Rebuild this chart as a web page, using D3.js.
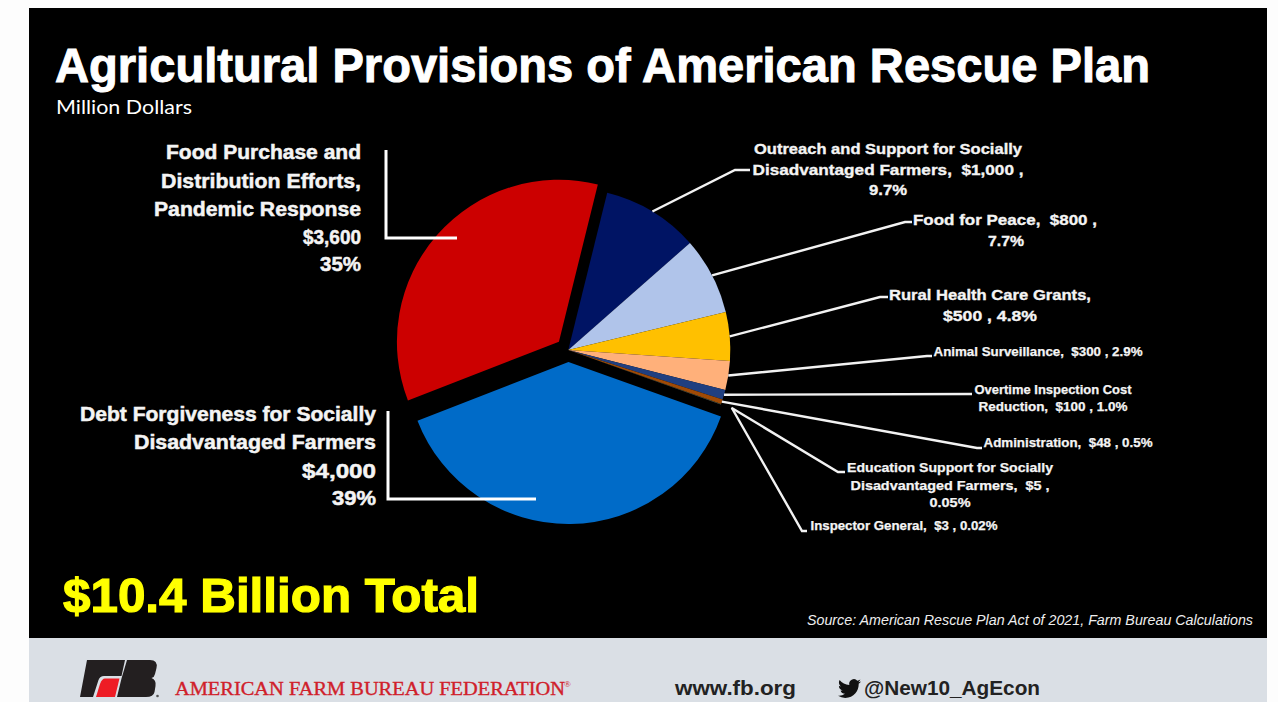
<!DOCTYPE html>
<html>
<head>
<meta charset="utf-8">
<script src="https://cdn.jsdelivr.net/npm/d3@7"></script>
<style>
  html, body { margin: 0; padding: 0; background: #fdfdfd; overflow: hidden; }
  svg { display: block; }
  text { font-family: "Liberation Sans", sans-serif; }
</style>
</head>
<body>
<svg id="chart" width="1278" height="702"></svg>
<script>
// Provision names, dollar amounts (million $) and printed shares, clockwise from the top.
const categories = [
  "Outreach and Support for Socially Disadvantaged Farmers",
  "Food for Peace",
  "Rural Health Care Grants",
  "Animal Surveillance",
  "Overtime Inspection Cost Reduction",
  "Administration",
  "Education Support for Socially Disadvantaged Farmers",
  "Inspector General",
  "Debt Forgiveness for Socially Disadvantaged Farmers",
  "Food Purchase and Distribution Efforts, Pandemic Response"
];
const amounts = [1000, 800, 500, 300, 100, 48, 5, 3, 4000, 3600];
const shares = ["9.7%", "7.7%", "4.8%", "2.9%", "1.0%", "0.5%", "0.05%", "0.02%", "39%", "35%"];
const sliceColors = ["#001464", "#b0c4ea", "#ffc000", "#ffb07a", "#203f80", "#a04a06", "#2f4a1c", "#8a8a8a", "#006bc8", "#cc0000"];

const titleText = "Agricultural Provisions of American Rescue Plan";
const subtitleText = "Million Dollars";
const totalText = "$10.4 Billion Total";
const sourceText = "Source: American Rescue Plan Act of 2021, Farm Bureau Calculations";
const orgText = "AMERICAN FARM BUREAU FEDERATION";
const siteText = "www.fb.org";
const handleText = "@New10_AgEcon";

const svg = d3.select("#chart");

// Slide backdrop and footer band
svg.append("rect").attr("x", 29).attr("y", 8).attr("width", 1238).attr("height", 630).attr("fill", "#000");
svg.append("rect").attr("x", 29).attr("y", 638).attr("width", 1238).attr("height", 64).attr("fill", "#dadfe5");

// Pie geometry
const center = [568.3, 350];
const radius = 162;
const explode = { 8: 12, 9: 12.5 };

const pie = d3.pie().sort(null).value(d => d)
  .startAngle(13.9 * Math.PI / 180)
  .endAngle((13.9 + 360) * Math.PI / 180);
const arcs = pie(amounts);
const arc = d3.arc().innerRadius(0).outerRadius(radius);
const midAngle = d => (d.startAngle + d.endAngle) / 2;

const pieLayer = svg.append("g").attr("transform", `translate(${center})`);
pieLayer.selectAll("path").data(arcs).join("path")
  .attr("d", arc)
  .attr("fill", (d, i) => sliceColors[i])
  .attr("transform", (d, i) => {
    const off = explode[i] || 0;
    return `translate(${off * Math.sin(midAngle(d))},${-off * Math.cos(midAngle(d))})`;
  });

// Leader lines: right-hand ones start on the rim at each slice's mid-angle
const leaderRadius = [162, 162, 162, 162, 162, 162, 173, 174];
const leaderBends = [
  [[735, 170], [750, 170]],
  [[905, 222], [912, 222]],
  [[880, 297], [888, 297]],
  [[927, 356], [932, 356]],
  [[972, 394]],
  [[977, 448], [982, 448]],
  [[838, 472], [845, 472]],
  [[802, 531], [807, 531]]
];
const line = d3.line();
svg.append("g").selectAll("path").data(leaderBends).join("path")
  .attr("fill", "none").attr("stroke", "#f2f2f2").attr("stroke-width", 2.4)
  .attr("d", (bends, i) => {
    const a = midAngle(arcs[i]), r = leaderRadius[i];
    return line([[center[0] + r * Math.sin(a), center[1] - r * Math.cos(a)], ...bends]);
  });

// Bracket-shaped leaders for the two large slices
const bracketLeaders = [
  [[386, 150], [386, 238], [457, 238]],
  [[388, 411], [388, 499], [536, 499]]
];
svg.append("g").selectAll("path").data(bracketLeaders).join("path")
  .attr("fill", "none").attr("stroke", "#fff").attr("stroke-width", 3).attr("d", line);

// Slice labels, one entry per printed line: text, anchor x, baseline y, font size, fitted width, outline
const labelLines = [
  ["Food Purchase and", "end", 361, 159, 20.5, 195, 0.5],
  ["Distribution Efforts,", "end", 361, 188, 20.5, 200, 0.5],
  ["Pandemic Response", "end", 361, 216, 20.5, 207, 0.5],
  ["$3,600", "end", 361, 244, 20.5, 58, 0.5],
  ["35%", "end", 361, 271, 20.5, 41, 0.5],
  ["Debt Forgiveness for Socially", "end", 376, 421, 20.5, 296, 0.5],
  ["Disadvantaged Farmers", "end", 376, 449, 20.5, 242, 0.5],
  ["$4,000", "end", 376, 478, 20.5, 74, 0.5],
  ["39%", "end", 376, 505, 20.5, 44, 0.5],
  ["Outreach and Support for Socially", "middle", 888, 154, 15.5, 268, 0.35],
  ["Disadvantaged Farmers,  $1,000 ,", "middle", 888, 175, 15.5, 271, 0.35],
  ["9.7%", "middle", 888, 195, 15.5, 38, 0.35],
  ["Food for Peace,  $800 ,", "middle", 1005, 225, 15.5, 184, 0.35],
  ["7.7%", "middle", 1006, 246, 15.5, 36, 0.35],
  ["Rural Health Care Grants,", "middle", 990, 300, 15.5, 202, 0.35],
  ["$500 , 4.8%", "middle", 990, 321, 15.5, 94, 0.35],
  ["Animal Surveillance,  $300 , 2.9%", "middle", 1038, 356, 12, 209, 0.25],
  ["Overtime Inspection Cost", "middle", 1053, 394, 12, 157, 0.25],
  ["Reduction,  $100 , 1.0%", "middle", 1053, 411, 12, 149, 0.25],
  ["Administration,  $48 , 0.5%", "middle", 1068, 447, 12, 169, 0.25],
  ["Education Support for Socially", "middle", 950, 472, 12.5, 206, 0.25],
  ["Disadvantaged Farmers,  $5 ,", "middle", 950, 490, 12.5, 199, 0.25],
  ["0.05%", "middle", 950, 507, 12.5, 41, 0.25],
  ["Inspector General,  $3 , 0.02%", "middle", 904, 530, 12, 187, 0.25]
];
svg.append("g").selectAll("text").data(labelLines).join("text")
  .text(d => d[0])
  .attr("text-anchor", d => d[1])
  .attr("x", d => d[2]).attr("y", d => d[3])
  .attr("font-size", d => d[4])
  .attr("textLength", d => d[5]).attr("lengthAdjust", "spacingAndGlyphs")
  .attr("font-weight", 700).attr("fill", "#f4f4f4")
  .attr("stroke", "#f4f4f4").attr("stroke-width", d => d[6])
  .style("white-space", "pre");

// Headline text
function put(txt, x, y, size, fill, width, extra) {
  const t = svg.append("text").text(txt).attr("x", x).attr("y", y)
    .attr("font-size", size).attr("fill", fill);
  if (width) t.attr("textLength", width).attr("lengthAdjust", "spacingAndGlyphs");
  if (extra) extra(t);
  return t;
}
const bold = t => t.attr("font-weight", 700);
const heavy = w => t => t.attr("font-weight", 700).attr("stroke", t.attr("fill")).attr("stroke-width", w);
put(titleText, 55, 81.5, 48.5, "#fff", 1095, heavy(1));
put(subtitleText, 56, 114, 19, "#fff", 136, t => t.style("font-family", 'Lato, sans-serif'));
put(totalText, 63, 612, 48, "#ffff00", 416, heavy(1.2));
put(sourceText, 807, 625, 14, "#eee", 446, t => t.attr("font-style", "italic"));

// Footer text
put(orgText, 175, 695, 19, "#d0202a", 390, t => {
  t.style("font-family", '"Liberation Serif", serif').attr("stroke", "#d0202a").attr("stroke-width", 0.35);
});
put("®", 564, 687, 9, "#d0202a", null, t => t.style("font-family", '"Liberation Serif", serif'));
put(siteText, 675, 695, 20, "#222", 121, bold);
put(handleText, 864, 695, 20, "#222", 176, bold);

// Twitter bird
svg.append("path")
  .attr("transform", "translate(838,677) scale(0.96)")
  .attr("fill", "#111")
  .attr("d", "M23.953 4.57a10 10 0 01-2.825.775 4.958 4.958 0 002.163-2.723c-.951.555-2.005.959-3.127 1.184a4.92 4.92 0 00-8.384 4.482C7.69 8.095 4.067 6.13 1.64 3.162a4.822 4.822 0 00-.666 2.475c0 1.71.87 3.213 2.188 4.096a4.904 4.904 0 01-2.228-.616v.06a4.923 4.923 0 003.946 4.827 4.996 4.996 0 01-2.212.085 4.936 4.936 0 004.604 3.417 9.867 9.867 0 01-6.102 2.105c-.39 0-.779-.023-1.17-.067a13.995 13.995 0 007.557 2.209c9.053 0 13.998-7.496 13.998-13.985 0-.21 0-.42-.015-.63A9.935 9.935 0 0024 4.59z");

// Federation logo: black F and B with the red block between them
const logo = svg.append("g");
logo.append("path").attr("fill", "#231f20")
  .attr("d", "M87,660 L125,660 L121.5,676 L104,676 Q100,676 98.5,680 L93,697 L80,697 Z");
logo.append("path").attr("fill", "#231f20")
  .attr("d", "M127,660 L150,660 Q158,660 156.5,668 L155,674 Q154.5,677 151.5,678 Q156.5,680 155.5,686 L154.5,692 Q153.5,697 146,697 L117,697 L121.5,678.5 Z");
logo.append("path").attr("fill", "#ee1c25")
  .attr("d", "M105,678.5 L119.5,678.5 L115,697 L96,697 L100,684 Q102,678.5 105,678.5 Z");
logo.append("circle").attr("cx", 157.5).attr("cy", 696).attr("r", 1.3).attr("fill", "#555");
</script>
</body>
</html>
